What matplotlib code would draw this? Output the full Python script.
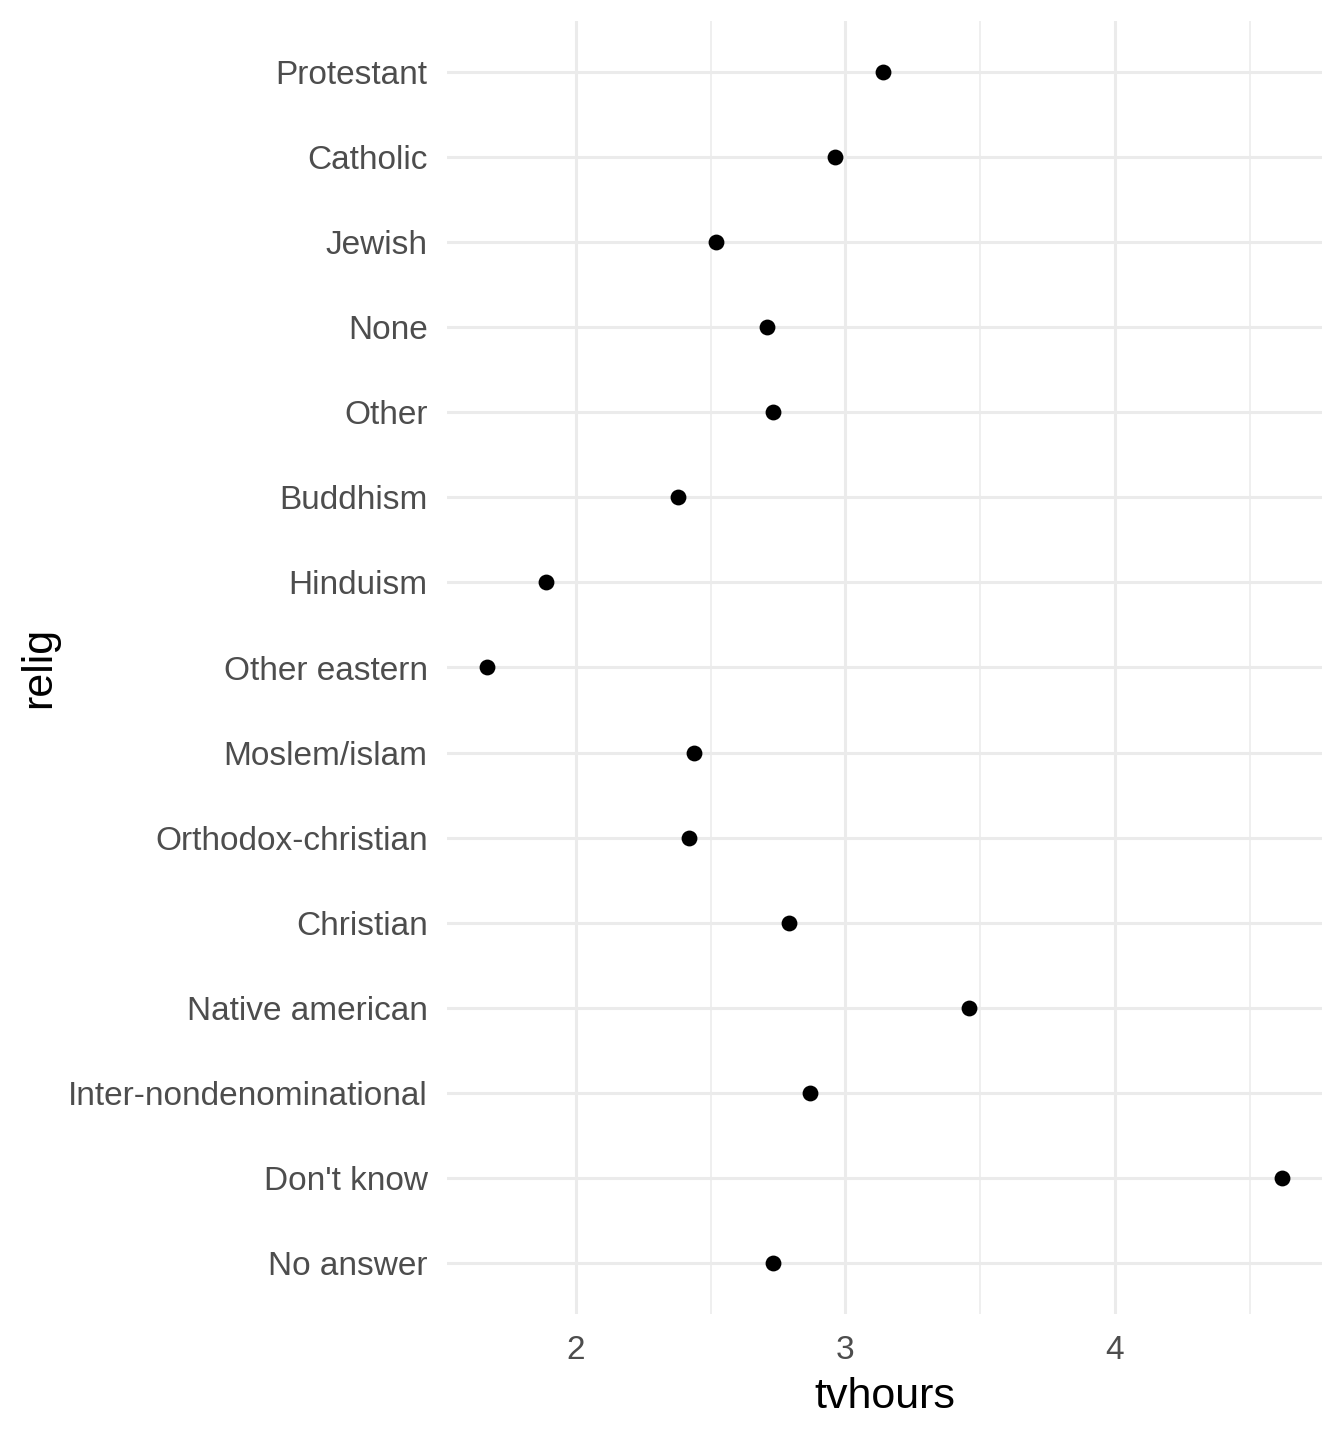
import numpy as np
import matplotlib.pyplot as plt

# Mittlere TV-Stunden je Religion
religionen = ["Protestant", "Catholic", "Jewish", "None", "Other", "Buddhism",
              "Hinduism", "Other eastern", "Moslem/islam", "Orthodox-christian",
              "Christian", "Native american", "Inter-nondenominational",
              "Don't know", "No answer"]
tvhours = [3.14, 2.96, 2.52, 2.71, 2.73, 2.38, 1.89, 1.67, 2.44, 2.42,
           2.79, 3.46, 2.87, 4.62, 2.73]

plt.rcParams['font.family'] = ['Liberation Sans', 'DejaVu Sans']

fig = plt.figure(figsize=(13.44, 14.4), dpi=100)
ax = fig.add_axes([447/1344, 1 - 1314/1440, (1322 - 447)/1344, (1314 - 21)/1440])

n = len(religionen)
y = np.arange(n)[::-1]
ax.scatter(tvhours, y, s=130, color='black', zorder=3, linewidths=0)

# Achsenbereich wie bei ggplot (5% Erweiterung, 0.6 diskret)
lo, hi = min(tvhours), max(tvhours)
rng = hi - lo
ax.set_xlim(lo - 0.05 * rng, hi + 0.05 * rng)
ax.set_ylim(-0.6, n - 1 + 0.6)

ax.set_xticks([2, 3, 4])
ax.set_xticks([2.5, 3.5, 4.5], minor=True)
ax.set_yticks(y)
ax.set_yticklabels(religionen)

ax.grid(True, which='major', axis='both', color='#EBEBEB', linewidth=2.2, zorder=0)
ax.grid(True, which='minor', axis='x', color='#EBEBEB', linewidth=1.1, zorder=0)
ax.set_axisbelow(True)

for s in ax.spines.values():
    s.set_visible(False)
ax.tick_params(axis='both', which='both', length=0, labelsize=24, colors='#4D4D4D')
ax.tick_params(axis='y', pad=14)
ax.tick_params(axis='x', pad=15)

ax.set_xlabel('tvhours', fontsize=31, color='black', labelpad=8)
ax.set_ylabel('relig', fontsize=31, color='black', labelpad=6)

fig.savefig('out.png', dpi=100)
